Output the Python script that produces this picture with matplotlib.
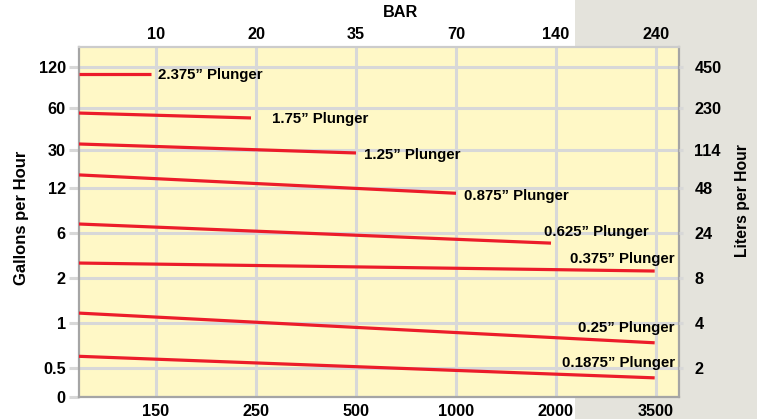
import numpy as np
import matplotlib.pyplot as plt
from matplotlib.patches import Rectangle

# tick values on the four axes
psi_ticks = [150, 250, 500, 1000, 2000, 3500]
bar_ticks = [10, 20, 35, 70, 140, 240]
gph_ticks = [0, 0.5, 1, 2, 6, 12, 30, 60, 120]
lph_ticks = [2, 4, 8, 24, 48, 114, 230, 450]   # same heights as gph 0.5 .. 120

# plunger lines (PSI on x, gallons per hour on y)
plungers = ["2.375\u201d Plunger", "1.75\u201d Plunger", "1.25\u201d Plunger",
            "0.875\u201d Plunger", "0.625\u201d Plunger", "0.375\u201d Plunger",
            "0.25\u201d Plunger", "0.1875\u201d Plunger"]
psi_start = [73, 73, 73, 73, 73, 73, 73, 73]
psi_end = [145, 245, 500, 1000, 1950, 3480, 3480, 3480]
gph_start = [110, 56.4, 34.3, 18.2, 7.2, 3.33, 1.22, 0.63]
gph_end = [110, 52.9, 28.6, 11.3, 5.1, 2.62, 0.78, 0.33]

# chart limits
psi_lim = (73, 3845)
gph_lim = (0, 149.3)


def make_scale(values, positions):
    # piecewise linear scale through the tick values, extrapolated at the ends
    values = np.asarray(values, float)
    positions = np.asarray(positions, float)
    lo = (positions[1] - positions[0]) / (values[1] - values[0])
    hi = (positions[-1] - positions[-2]) / (values[-1] - values[-2])

    def forward(v):
        v = np.asarray(v, float)
        return np.where(v < values[0], positions[0] + (v - values[0]) * lo,
                        np.where(v > values[-1], positions[-1] + (v - values[-1]) * hi,
                                 np.interp(v, values, positions)))

    def inverse(p):
        p = np.asarray(p, float)
        return np.where(p < positions[0], values[0] + (p - positions[0]) / lo,
                        np.where(p > positions[-1], values[-1] + (p - positions[-1]) / hi,
                                 np.interp(p, positions, values)))

    return forward, inverse


# evenly spaced pressure ticks, uneven flow ticks (as printed)
x_funcs = make_scale(psi_ticks, np.arange(len(psi_ticks)))
y_funcs = make_scale(gph_ticks, [0, 29, 74, 119, 164, 209, 247, 289, 330])

plt.rcParams["font.family"] = ["Liberation Sans", "DejaVu Sans"]
plt.rcParams["font.weight"] = "bold"

fig = plt.figure(figsize=(7.57, 4.19), dpi=100)
fig.patches.append(Rectangle((575 / 757, 0), 182 / 757, 1, transform=fig.transFigure,
                             facecolor="#e4e3dc", edgecolor="none", zorder=-10))

ax = fig.add_axes([79 / 757, 22 / 419, 600 / 757, 350 / 419])
ax.set_facecolor("#fff8c6")
ax.set_xscale("function", functions=x_funcs)
ax.set_yscale("function", functions=y_funcs)
ax.set_xlim(*psi_lim)
ax.set_ylim(*gph_lim)

ax.set_xticks(psi_ticks, labels=[str(v) for v in psi_ticks], fontweight="bold")
ax.set_yticks(gph_ticks, labels=[f"{v:g}" for v in gph_ticks], fontweight="bold")
ax.minorticks_off()
ax.grid(True, color="#d8d8d8", linewidth=2.2)
ax.set_axisbelow(True)
ax.tick_params(axis="x", length=0, pad=5, labelsize=11.7)
ax.tick_params(axis="y", length=7.5, width=2.2, color="#d8d8d8", pad=2, labelsize=11.7)

for name, sp in ax.spines.items():
    sp.set_color("#cccccc" if name == "top" else "#a5a5a5")
    sp.set_linewidth(1.6)

for i, name in enumerate(plungers):
    ax.plot([psi_start[i], psi_end[i]], [gph_start[i], gph_end[i]],
            color="#ec1c2a", linewidth=2.3, solid_capstyle="butt", zorder=3)

# labels: short lines get the label at their end, long lines above their end
ax.annotate(plungers[0], (psi_end[0], gph_end[0]), xytext=(7, -1),
            textcoords="offset pixels", fontsize=10.8, va="center", ha="left")
ax.annotate(plungers[1], (psi_end[1], gph_end[1]), xytext=(21, -1),
            textcoords="offset pixels", fontsize=10.8, va="center", ha="left")
ax.annotate(plungers[2], (psi_end[2], gph_end[2]), xytext=(8, -2),
            textcoords="offset pixels", fontsize=10.8, va="center", ha="left")
ax.annotate(plungers[3], (psi_end[3], gph_end[3]), xytext=(8, -3),
            textcoords="offset pixels", fontsize=10.8, va="center", ha="left")
ax.annotate(plungers[4], (psi_end[4], gph_end[4]), xytext=(98, 11),
            textcoords="offset pixels", fontsize=10.8, va="center", ha="right")
for i in (5, 6, 7):
    ax.annotate(plungers[i], (psi_end[i], gph_end[i]), xytext=(20, 12 if i == 5 else 15),
                textcoords="offset pixels", fontsize=10.8, va="center", ha="right")

# top axis in BAR
top = ax.twiny()
top.set_xscale("function", functions=x_funcs)
top.set_xlim(*psi_lim)
top.set_xticks(psi_ticks, labels=[str(v) for v in bar_ticks], fontweight="bold")
top.minorticks_off()
top.tick_params(axis="x", length=0, pad=3.5, labelsize=11.7)
top.set_xlabel("BAR", fontsize=11.7, fontweight="bold", labelpad=4)
top.xaxis.set_label_coords(322 / 600, 1.0 + 30 / 350)

# right axis in liters per hour
right = ax.twinx()
right.set_yscale("function", functions=y_funcs)
right.set_ylim(*gph_lim)
right.set_yticks(gph_ticks[1:], labels=[str(v) for v in lph_ticks], fontweight="bold")
right.minorticks_off()
right.tick_params(axis="y", length=3, width=2.2, color="#d8d8d8", pad=8, labelsize=11.7)

for a in (top, right):
    for sp in a.spines.values():
        sp.set_visible(False)

fig.text(22 / 757, 1 - 218 / 419, "Gallons per Hour", rotation=90, fontsize=12,
         fontweight="bold", ha="center", va="center")
fig.text(742 / 757, 1 - 201 / 419, "Liters per Hour", rotation=90, fontsize=11.3,
         fontweight="bold", ha="center", va="center")

plt.savefig("out.png", dpi=100)
